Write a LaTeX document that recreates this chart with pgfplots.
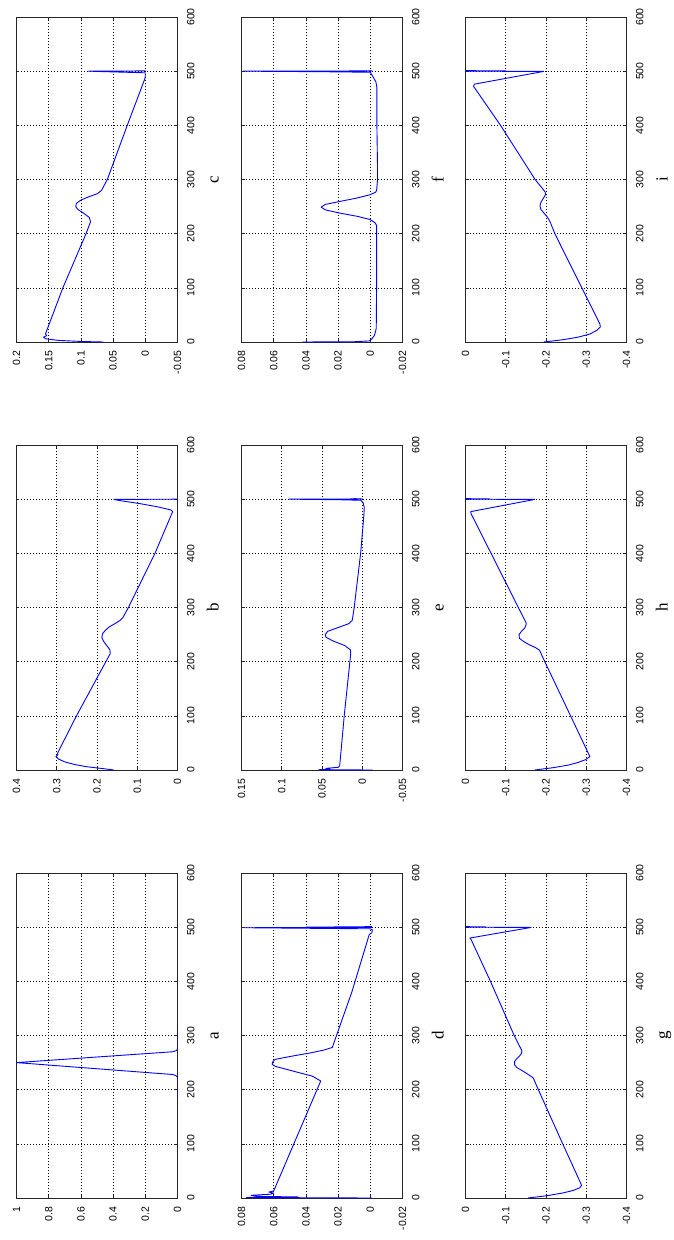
\documentclass[border=0pt]{standalone}
\usepackage{pgfplots}
\pgfplotsset{compat=1.18}
\usepackage{fontspec}
\setmainfont{Liberation Sans}
\newfontfamily\labfont{Liberation Serif}
\definecolor{mblue}{RGB}{30,30,185}
\tikzset{plab/.style={rotate=90, anchor=base, font=\labfont\fontsize{17}{19}\selectfont}}
\pgfplotsset{
  panel/.style={
    scale only axis, width=161pt, height=325pt,
    anchor=center,
    clip mode=individual,
    x dir=reverse,
    ymin=0, ymax=600, ytick={0,100,200,300,400,500,600},
    yticklabels={0,100,200,300,400,500,600},
    xtick pos=both, ytick pos=both,
    yticklabel pos=right,
    grid=major,
    major grid style={black, line width=0.6pt, dash pattern=on 0.7pt off 2.3pt},
    axis line style={black!85, line width=0.8pt},
    tick style={black!85, line width=0.6pt},
    major tick length=3pt,
    tick align=inside,
    scaled x ticks=false, scaled y ticks=false,
    tick label style={font=\fontsize{10.5}{12}\selectfont},
    xticklabel style={rotate=90, anchor=east},
    yticklabel style={rotate=90, anchor=north},
    xticklabel shift=5pt, yticklabel shift=6pt,
    every axis plot/.append style={mblue, line width=0.9pt, no marks, line join=round},
  },
}
\begin{document}
\begin{tikzpicture}
\path[use as bounding box] (0pt,0pt) rectangle (673pt,-1240pt);

% ---------- c ----------
\begin{axis}[panel, at={(97pt,-179.5pt)}, xmin=-0.05, xmax=0.2, xtick={-0.05,0,0.05,0.1,0.15,0.2},
  xticklabels={-0.05,0,0.05,0.1,0.15,0.2}]
\addplot table[x=v,y=i] {
i v
0 0.065
1 0.10
3 0.135
6 0.155
9 0.158
12 0.153
15 0.155
100 0.128
200 0.092
222 0.085
230 0.087
238 0.096
245 0.105
250 0.108
256 0.107
262 0.100
268 0.088
274 0.074
280 0.068
300 0.059
400 0.028
485 0.001
490 0.0
497 0.0
499 0.06
500 0.088
500.5 0.0
501 0.0
};
\node[plab] at (axis description cs:1.255,0.5) {c};
\end{axis}

% ---------- b ----------
\begin{axis}[panel, at={(97pt,-607.5pt)}, xmin=0, xmax=0.4, xtick={0,0.1,0.2,0.3,0.4},
  xticklabels={0,0.1,0.2,0.3,0.4}]
\addplot table[x=v,y=i] {
i v
0 0.158
3 0.19
6 0.225
10 0.255
15 0.28
20 0.295
25 0.302
28 0.297
31 0.298
100 0.251
215 0.167
222 0.168
230 0.176
238 0.184
245 0.188
252 0.186
258 0.179
264 0.170
270 0.156
276 0.143
281 0.136
300 0.122
400 0.056
477 0.012
480 0.016
486 0.05
492 0.095
497 0.14
499.5 0.158
500 0.0
501 0.0
};
\node[plab] at (axis description cs:1.255,0.5) {b};
\end{axis}

% ---------- a ----------
\begin{axis}[panel, at={(97pt,-1035.5pt)}, xmin=0, xmax=1, xtick={0,0.2,0.4,0.6,0.8,1},
  xticklabels={0,0.2,0.4,0.6,0.8,1}]
\addplot table[x=v,y=i] {
i v
185 0
200 0
215 0
223 0
226 0.01
228 0.03
250 1
270 0.03
272 0.008
275 0
300 0
318 0
};
\node[plab] at (axis description cs:1.255,0.5) {a};
\end{axis}

% ---------- f ----------
\begin{axis}[panel, at={(322pt,-179.5pt)}, xmin=-0.02, xmax=0.08, xtick={-0.02,0,0.02,0.04,0.06,0.08},
  xticklabels={-0.02,0,0.02,0.04,0.06,0.08}]
\addplot table[x=v,y=i] {
i v
0 0.042
0.5 0.01
2 0.0005
6 -0.001
12 -0.0025
20 -0.0033
25 -0.0037
100 -0.0039
215 -0.0039
220 -0.003
226 0.0
232 0.008
238 0.019
244 0.028
249 0.0305
254 0.028
260 0.018
266 0.008
272 0.0
277 -0.0035
282 -0.004
300 -0.0045
320 -0.0045
400 -0.0041
470 -0.0041
480 -0.0035
488 -0.002
494 -0.0008
498 0.0
499 0.03
500 0.079
500.5 -0.001
501 0.0
};
\node[plab] at (axis description cs:1.255,0.5) {f};
\end{axis}

% ---------- e ----------
\begin{axis}[panel, at={(322pt,-607.5pt)}, xmin=-0.05, xmax=0.15, xtick={-0.05,0,0.05,0.1,0.15},
  xticklabels={-0.05,0,0.05,0.1,0.15}]
\addplot table[x=v,y=i] {
i v
0 -0.013
0.5 0.054
1.5 0.04
3 0.045
5 0.03
8 0.028
100 0.0224
215 0.0143
222 0.0148
230 0.022
238 0.036
245 0.045
250 0.046
256 0.043
263 0.030
270 0.017
276 0.0125
280 0.012
300 0.010
400 0.002
470 -0.002
485 -0.0025
494 -0.001
498 0.002
499 0.03
500 0.091
500.5 0.0
501 0.01
};
\node[plab] at (axis description cs:1.255,0.5) {e};
\end{axis}

% ---------- d ----------
\begin{axis}[panel, at={(322pt,-1035.5pt)}, xmin=-0.02, xmax=0.08, xtick={-0.02,0,0.02,0.04,0.06,0.08},
  xticklabels={-0.02,0,0.02,0.04,0.06,0.08}]
\addplot table[x=v,y=i] {
i v
0 -0.001
1 0.077
2 0.045
3 0.07
5 0.074
7 0.062
9 0.06
11 0.063
13 0.06
100 0.0475
216 0.0308
225 0.036
232 0.045
238 0.0526
243 0.059
247 0.061
252 0.0605
256 0.059
262 0.0485
268 0.037
273 0.029
278 0.0236
380 0.0115
486 0.0007
490 -0.001
495 -0.0013
497 0.0
498 0.04
499 0.078
499.5 -0.001
500 0.04
501 -0.001
};
\node[plab] at (axis description cs:1.255,0.5) {d};
\end{axis}

% ---------- i ----------
\begin{axis}[panel, at={(546pt,-179.5pt)}, xmin=-0.4, xmax=0, xtick={-0.4,-0.3,-0.2,-0.1,0},
  xticklabels={-0.4,-0.3,-0.2,-0.1,0}]
\addplot table[x=v,y=i] {
i v
0 -0.194
4 -0.24
9 -0.28
15 -0.31
22 -0.327
28 -0.335
33 -0.334
100 -0.289
200 -0.222
222 -0.21
230 -0.204
238 -0.195
245 -0.187
252 -0.185
259 -0.188
266 -0.194
272 -0.199
277 -0.198
300 -0.173
400 -0.087
472 -0.02
476 -0.022
499.5 -0.194
500 0.0
500.5 -0.1
501 0.0
};
\node[plab] at (axis description cs:1.255,0.5) {i};
\end{axis}

% ---------- h ----------
\begin{axis}[panel, at={(546pt,-607.5pt)}, xmin=-0.4, xmax=0, xtick={-0.4,-0.3,-0.2,-0.1,0},
  xticklabels={-0.4,-0.3,-0.2,-0.1,0}]
\addplot table[x=v,y=i] {
i v
0 -0.172
4 -0.215
9 -0.255
14 -0.28
19 -0.298
24.6 -0.309
28 -0.307
100 -0.261
200 -0.197
221 -0.184
226 -0.174
231 -0.159
237 -0.145
243 -0.134
250 -0.133
256 -0.139
262 -0.147
267 -0.150
271 -0.151
400 -0.0635
473 -0.014
477 -0.013
499.5 -0.172
500 0.0
500.5 -0.06
501 0.0
};
\node[plab] at (axis description cs:1.255,0.5) {h};
\end{axis}

% ---------- g ----------
\begin{axis}[panel, at={(546pt,-1035.5pt)}, xmin=-0.4, xmax=0, xtick={-0.4,-0.3,-0.2,-0.1,0},
  xticklabels={-0.4,-0.3,-0.2,-0.1,0}]
\addplot table[x=v,y=i] {
i v
0 -0.155
4 -0.2
9 -0.24
14 -0.268
19 -0.284
23 -0.288
26 -0.287
100 -0.2415
200 -0.181
222 -0.168
230 -0.152
236 -0.139
241 -0.127
246 -0.122
252 -0.122
257 -0.127
262 -0.134
267 -0.139
272 -0.140
300 -0.121
400 -0.062
477 -0.014
480 -0.011
499.5 -0.163
500 0.0
500.5 -0.05
501 0.0
};
\node[plab] at (axis description cs:1.255,0.5) {g};
\end{axis}
\end{tikzpicture}
\end{document}
